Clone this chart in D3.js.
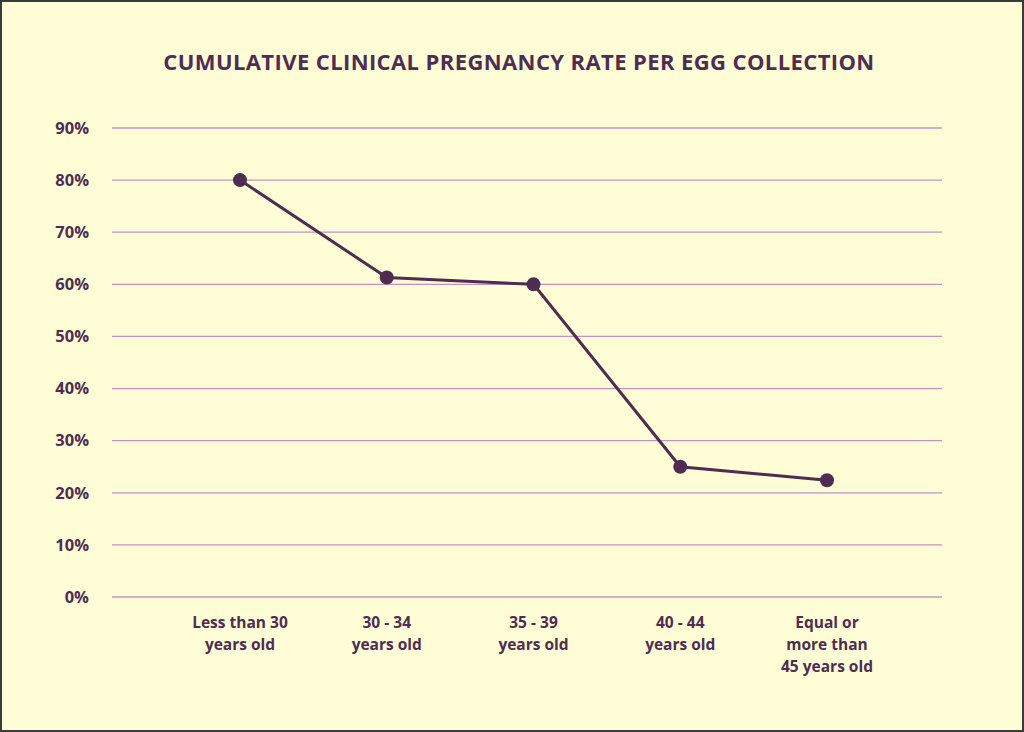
<!DOCTYPE html>
<html>
<head>
<meta charset="utf-8">
<script src="https://cdn.jsdelivr.net/npm/d3@7"></script>
<style>
  html, body { margin: 0; padding: 0; background: #fefdd6; }
  svg { display: block; }
  text { font-family: 'Open Sans', sans-serif; font-weight: 700; fill: #4f2d52; }
</style>
</head>
<body>
<svg id="chart" width="1024" height="732"></svg>
<script>
const categories = [
    ['Less than 30', 'years old'],
    ['30 - 34', 'years old'],
    ['35 - 39', 'years old'],
    ['40 - 44', 'years old'],
    ['Equal or', 'more than', '45 years old']
]
const rates = [80, 61.3, 60, 25, 22.4]
const yTicks = [0, 10, 20, 30, 40, 50, 60, 70, 80, 90]
const TITLE = 'CUMULATIVE CLINICAL PREGNANCY RATE PER EGG COLLECTION'

const COLOR_TEXT = '#4f2d52'
const COLOR_GRID = '#c490c6'

const width = 1024
const height = 732
const svg = d3.select('#chart')

// frame
svg.append('rect')
    .attr('x', 1).attr('y', 1)
    .attr('width', width - 2).attr('height', height - 2)
    .attr('fill', '#fefdd6')
    .attr('stroke', '#3a3a3a')
    .attr('stroke-width', 2)

svg.append('text')
    .attr('x', 519)
    .attr('y', 70)
    .attr('text-anchor', 'middle')
    .style('font-size', '22px')
    .style('letter-spacing', '0.4px')
    .text(TITLE)

const y = d3.scaleLinear().domain([0, 90]).range([597, 128])
const x = d3.scalePoint().domain(d3.range(categories.length)).range([240, 827])

const grid = svg.append('g')
grid.selectAll('line')
    .data(yTicks)
    .join('line')
        .attr('x1', 112)
        .attr('x2', 942)
        .attr('y1', d => y(d))
        .attr('y2', d => y(d))
        .attr('stroke', COLOR_GRID)
        .attr('stroke-width', 1.3)

grid.selectAll('text')
    .data(yTicks)
    .join('text')
        .attr('x', 89)
        .attr('y', d => y(d))
        .attr('dy', '0.35em')
        .attr('text-anchor', 'end')
        .style('font-size', '16.5px')
        .text(d => d + '%')

const xLabels = svg.append('g')
categories.forEach((lines, i) => {
    const t = xLabels.append('text')
        .attr('x', x(i))
        .attr('y', 628)
        .attr('text-anchor', 'middle')
        .style('font-size', '15.5px')
    lines.forEach((line, j) => {
        t.append('tspan')
            .attr('x', x(i))
            .attr('dy', j === 0 ? 0 : 22)
            .text(line)
    })
})

const line = d3.line()
    .x((d, i) => x(i))
    .y(d => y(d))

svg.append('path')
    .datum(rates)
    .attr('d', line)
    .attr('fill', 'none')
    .attr('stroke', COLOR_TEXT)
    .attr('stroke-width', 3)

svg.selectAll('.point')
    .data(rates)
    .join('circle')
        .attr('class', 'point')
        .attr('cx', (d, i) => x(i))
        .attr('cy', d => y(d))
        .attr('r', 7)
        .attr('fill', COLOR_TEXT)
</script>
</body>
</html>
